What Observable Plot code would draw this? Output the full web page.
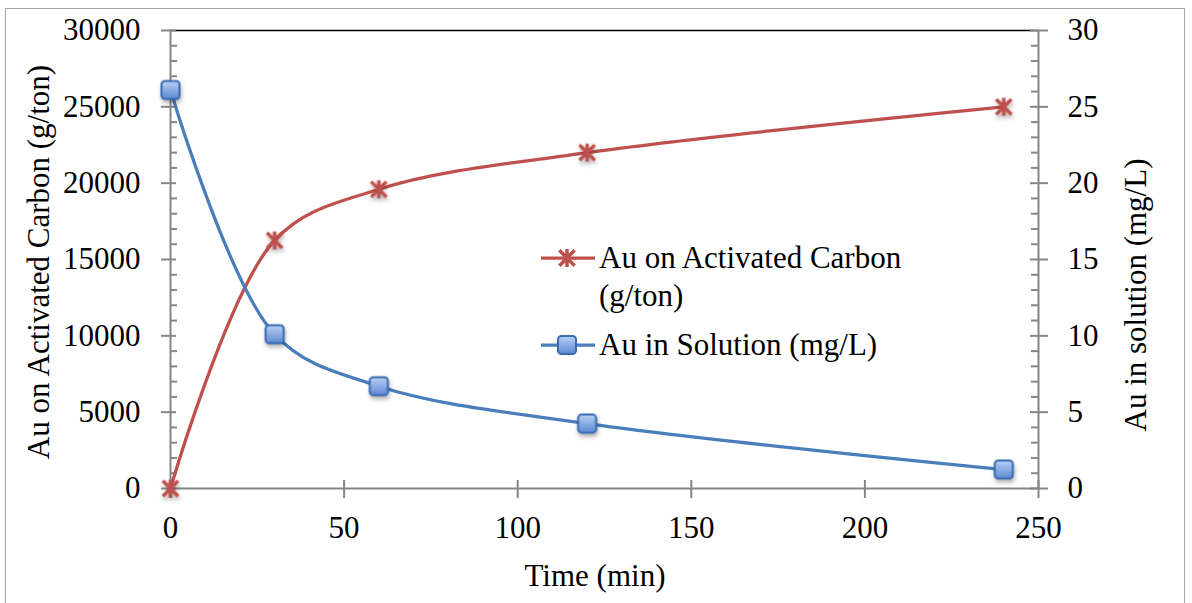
<!DOCTYPE html>
<html>
<head>
<meta charset="utf-8">
<script src="https://cdn.jsdelivr.net/npm/d3@7"></script>
<script src="https://cdn.jsdelivr.net/npm/@observablehq/plot@0.6"></script>
<style>
  html, body { margin: 0; padding: 0; background: #fff; overflow: hidden; }
  #wrap { position: relative; width: 1192px; height: 603px; font-family: "Liberation Serif", "Times New Roman", serif; color: #000; }
  .border { position: absolute; left: 5px; top: 8px; width: 1180px; height: 640px; border: 1.5px solid #a6a6a6; box-sizing: border-box; }
  .lbl { position: absolute; font-size: 31px; white-space: nowrap; transform: translate(-50%, -50%); line-height: 1; }
  .rot { transform: translate(-50%, -50%) rotate(-90deg); }
  .leg { position: absolute; font-size: 31px; line-height: 38px; white-space: nowrap; }
  .legsym { position: absolute; overflow: visible; }
</style>
</head>
<body>
<div id="wrap">
  <div class="border"></div>
</div>
<script>
// ---- data ----
const times = [0, 30, 60, 120, 240];
const auCarbon = [0, 16250, 19600, 22000, 25000];   // g/ton (left axis)
const auSolution = [26.1, 10.1, 6.7, 4.25, 1.24];   // mg/L (right axis)
const xTicks = [0, 50, 100, 150, 200, 250];
const leftTicks = [0, 5000, 10000, 15000, 20000, 25000, 30000];
const rightTicks = [0, 5, 10, 15, 20, 25, 30];
const leftMinor = d3.range(0, 30001, 1000).filter(v => v % 5000 !== 0);
const seriesNames = ["Au on Activated Carbon (g/ton)", "Au in Solution (mg/L)"];
const xTitle = "Time (min)";
const yLeftTitle = "Au on Activated Carbon (g/ton)";
const yRightTitle = "Au in solution (mg/L)";

const ratio = 1000; // right axis unit -> left axis unit
const red = "#C0504D", blue = "#4A7EBB", gray = "#868686";

const carbon = times.map((t, i) => ({t, v: auCarbon[i]}));
const solution = times.map((t, i) => ({t, v: auSolution[i]}));

const W = 1192, H = 603, mL = 170, mR = 154, mT = 30, mB = 115;
const plotW = W - mL - mR, plotH = H - mT - mB;

// custom symbols
const starSymbol = {
  draw(ctx, size) {
    const r = Math.sqrt(size / Math.PI);
    const d = r * 0.85;
    ctx.moveTo(0, -r); ctx.lineTo(0, r);
    ctx.moveTo(-d, -d); ctx.lineTo(d, d);
    ctx.moveTo(-d, d); ctx.lineTo(d, -d);
  }
};
const roundSquare = {
  draw(ctx, size) {
    const s = Math.sqrt(size / Math.PI) * 0.95, c = 3.5;
    ctx.moveTo(-s + c, -s);
    ctx.lineTo(s - c, -s); ctx.arcTo(s, -s, s, -s + c, c);
    ctx.lineTo(s, s - c); ctx.arcTo(s, s, s - c, s, c);
    ctx.lineTo(-s + c, s); ctx.arcTo(-s, s, -s, s - c, c);
    ctx.lineTo(-s, -s + c); ctx.arcTo(-s, -s, -s + c, -s, c);
    ctx.closePath();
  }
};

const chart = Plot.plot({
  width: W, height: H,
  marginLeft: mL, marginRight: mR, marginTop: mT, marginBottom: mB,
  x: {domain: [0, 250], label: null},
  y: {domain: [0, 30000], label: null},
  style: {fontFamily: "'Liberation Serif', 'Times New Roman', serif", fontSize: "31px", color: "#000", background: "transparent", overflow: "visible"},
  marks: [
    Plot.ruleY([30000], {stroke: "#000", strokeWidth: 1.5}),
    Plot.ruleX([0], {stroke: gray, strokeWidth: 2}),
    Plot.ruleX([250], {stroke: gray, strokeWidth: 2}),
    Plot.ruleY([0], {stroke: gray, strokeWidth: 2}),
    // left ticks
    Plot.tickY(leftMinor, {y: d => d, insetLeft: 0, insetRight: plotW - 7, stroke: gray, strokeWidth: 2}),
    Plot.tickY(leftTicks, {y: d => d, insetLeft: -9, insetRight: plotW - 6, stroke: gray, strokeWidth: 2}),
    // right ticks
    Plot.tickY(leftMinor, {y: d => d, insetLeft: plotW - 7, insetRight: 0, stroke: gray, strokeWidth: 2}),
    Plot.tickY(leftTicks, {y: d => d, insetLeft: plotW - 8, insetRight: -10, stroke: gray, strokeWidth: 2}),
    // x ticks
    Plot.tickX(xTicks, {x: d => d, insetTop: plotH - 8, insetBottom: -10, stroke: gray, strokeWidth: 2}),
    Plot.axisY(leftTicks, {anchor: "left", tickSize: 0, tickPadding: 30, tickFormat: d => String(d), label: null}),
    Plot.axisY(leftTicks, {anchor: "right", tickSize: 0, tickPadding: 29, tickFormat: d => String(d / ratio), label: null}),
    Plot.axisX(xTicks, {anchor: "bottom", tickSize: 0, tickPadding: 27, tickFormat: d => String(d), label: null}),
    // series
    Plot.line(carbon, {x: "t", y: "v", stroke: red, strokeWidth: 3.25, curve: "catmull-rom"}),
    Plot.line(solution, {x: "t", y: d => d.v * ratio, stroke: blue, strokeWidth: 3.25, curve: "catmull-rom"}),
    Plot.dot(carbon, {x: "t", y: "v", symbol: starSymbol, r: 9, stroke: red, strokeWidth: 3.5, fill: "none"}),
    Plot.dot(solution, {x: "t", y: d => d.v * ratio, symbol: roundSquare, r: 9.5, stroke: "#3A6BB0", strokeWidth: 2, fill: "url(#sqgrad)"})
  ]
});

// gradient defs and marker shadows
const svgSel = d3.select(chart);
const defs = svgSel.insert("defs", ":first-child");
const g = defs.append("linearGradient").attr("id", "sqgrad").attr("x1", 0).attr("y1", 0).attr("x2", 0).attr("y2", 1);
g.append("stop").attr("offset", "0%").attr("stop-color", "#B9D0F6");
g.append("stop").attr("offset", "100%").attr("stop-color", "#5B89D2");
svgSel.selectAll('g[aria-label="dot"]').style("filter", "drop-shadow(1px 3px 2px rgba(0,0,0,0.3))");

chart.style.position = "absolute";
chart.style.left = "0px";
chart.style.top = "0px";
const wrap = document.getElementById("wrap");
wrap.appendChild(chart);

function addLabel(text, x, y, rotate) {
  const d = document.createElement("div");
  d.className = "lbl" + (rotate ? " rot" : "");
  d.style.left = x + "px"; d.style.top = y + "px";
  d.textContent = text;
  wrap.appendChild(d);
}
addLabel(xTitle, 595, 575, false);
addLabel(yLeftTitle, 38, 262, true);
addLabel(yRightTitle, 1135, 295, true);

// legend
function legendSymbol(y, kind) {
  const s = d3.create("svg").attr("class", "legsym").attr("width", 60).attr("height", 30)
    .style("left", "538px").style("top", (y - 15) + "px");
  const color = kind === "star" ? red : blue;
  s.append("line").attr("x1", 3).attr("x2", 57).attr("y1", 15).attr("y2", 15).attr("stroke", color).attr("stroke-width", 3.25);
  if (kind === "star") {
    const p = d3.path(); starSymbol.draw(p, 81 * Math.PI);
    s.append("path").attr("d", p.toString()).attr("transform", "translate(29,15)").attr("stroke", red).attr("stroke-width", 3.5).attr("fill", "none");
  } else {
    const dd = s.append("defs").append("linearGradient").attr("id", "sqgrad2").attr("x1", 0).attr("y1", 0).attr("x2", 0).attr("y2", 1);
    dd.append("stop").attr("offset", "0%").attr("stop-color", "#B9D0F6");
    dd.append("stop").attr("offset", "100%").attr("stop-color", "#5B89D2");
    const p = d3.path(); roundSquare.draw(p, 9.5 * 9.5 * Math.PI);
    s.append("path").attr("d", p.toString()).attr("transform", "translate(29,15)").attr("stroke", "#3A6BB0").attr("stroke-width", 2).attr("fill", "url(#sqgrad2)");
  }
  wrap.appendChild(s.node());
}
legendSymbol(258, "star");
legendSymbol(345, "square");
function legendText(text, y) {
  const d = document.createElement("div");
  d.className = "leg";
  d.style.left = "599px"; d.style.top = y + "px";
  d.innerHTML = text;
  wrap.appendChild(d);
}
legendText("Au on Activated Carbon<br>(g/ton)", 239);
legendText(seriesNames[1], 326);
</script>
</body>
</html>
